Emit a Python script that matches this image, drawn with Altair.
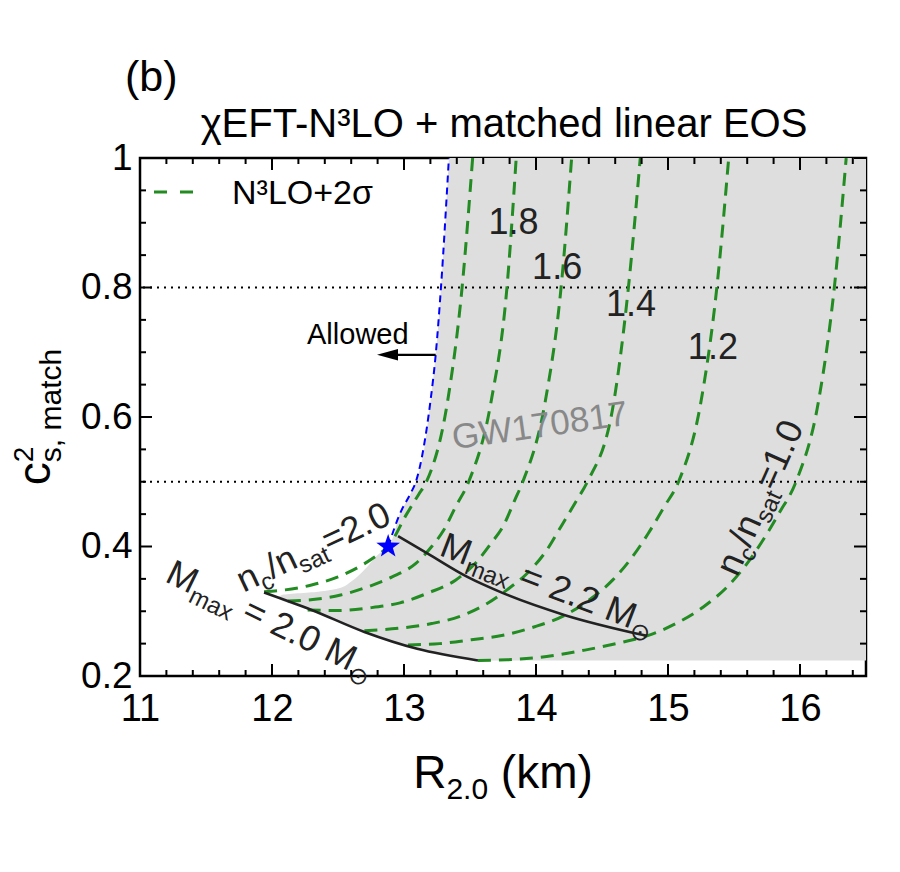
import math
import altair as alt
import pandas as pd

FONT = "Liberation Sans"
GREEN = "#228B22"
INK = "#222222"

# ---------------- data ----------------
X_MAJOR = [11, 12, 13, 14, 15, 16]
X_MINOR = [11.2, 11.4, 11.6, 11.8, 12.2, 12.4, 12.6, 12.8, 13.2, 13.4, 13.6, 13.8,
           14.2, 14.4, 14.6, 14.8, 15.2, 15.4, 15.6, 15.8, 16.2, 16.4]
Y_MAJOR = [0.2, 0.4, 0.6, 0.8, 1.0]
Y_MINOR = [0.25, 0.3, 0.35, 0.45, 0.5, 0.55, 0.65, 0.7, 0.75, 0.85, 0.9, 0.95]
DOTTED_Y = [0.5, 0.8]

NC_LEVELS = ["2.0", "1.8", "1.6", "1.4", "1.2", "1.0"]
NC_X = {
    "2.0": [11.94, 12.10, 12.30, 12.50, 12.68, 12.80, 12.88, 13.02, 13.11, 13.17, 13.33, 13.44, 13.52],
    "1.8": [12.12, 12.31, 12.52, 12.73, 12.91, 13.09, 13.21, 13.30, 13.39, 13.49, 13.66, 13.78, 13.85],
    "1.6": [12.27, 12.49, 12.73, 12.97, 13.18, 13.39, 13.54, 13.66, 13.75, 13.84, 13.90, 14.07, 14.19, 14.27],
    "1.4": [12.70, 12.97, 13.21, 13.45, 13.63, 13.78, 13.93, 14.08, 14.19, 14.31, 14.39, 14.59, 14.70, 14.79],
    "1.2": [13.03, 13.27, 13.51, 13.75, 13.99, 14.22, 14.40, 14.58, 14.73, 14.85, 14.97, 15.08, 15.25, 15.37, 15.46],
    "1.0": [13.56, 13.78, 14.08, 14.37, 14.67, 14.84, 15.06, 15.27, 15.45, 15.60, 15.72, 15.84, 15.97, 16.14, 16.26, 16.35],
}
NC_Y = {
    "2.0": [0.330, 0.333, 0.3405, 0.353, 0.371, 0.387, 0.400, 0.450, 0.480, 0.500, 0.624, 0.800, 1.000],
    "1.8": [0.316, 0.318, 0.325, 0.338, 0.353, 0.374, 0.400, 0.425, 0.461, 0.500, 0.624, 0.800, 1.000],
    "1.6": [0.302, 0.301, 0.305, 0.313, 0.328, 0.348, 0.374, 0.405, 0.431, 0.472, 0.500, 0.624, 0.800, 1.000],
    "1.4": [0.270, 0.274, 0.281, 0.294, 0.312, 0.333, 0.358, 0.394, 0.431, 0.472, 0.500, 0.624, 0.800, 1.000],
    "1.2": [0.248, 0.250, 0.256, 0.263, 0.276, 0.294, 0.317, 0.348, 0.384, 0.420, 0.461, 0.500, 0.624, 0.800, 1.000],
    "1.0": [0.224, 0.225, 0.230, 0.240, 0.253, 0.262, 0.281, 0.307, 0.338, 0.374, 0.410, 0.451, 0.500, 0.624, 0.800, 1.000],
}
MMAX20_X = [11.94, 12.30, 12.70, 13.10, 13.56]
MMAX20_Y = [0.329, 0.302, 0.268, 0.242, 0.224]
MMAX22_X = [12.955, 13.18, 13.48, 13.75, 14.22, 14.84]
MMAX22_Y = [0.416, 0.389, 0.353, 0.328, 0.294, 0.262]
GW_X = [12.88, 12.97, 13.05, 13.09, 13.20, 13.24, 13.28, 13.34]
GW_Y = [0.400, 0.451, 0.482, 0.500, 0.624, 0.696, 0.800, 1.000]
GREY_Y = [0.224, 0.242, 0.268, 0.302, 0.321, 0.325, 0.330, 0.335, 0.346, 0.364, 0.387, 0.400,
          0.451, 0.482, 0.500, 0.624, 0.696, 0.800, 1.000]
GREY_XL = [13.56, 13.10, 12.70, 12.30, 12.05, 12.075, 12.35, 12.50, 12.60, 12.70, 12.80, 12.88,
           12.97, 13.05, 13.09, 13.20, 13.24, 13.28, 13.34]
GREY_XR = 16.5
STAR = (12.88, 0.400)
LEVEL_LABELS = ["1.8", "1.6", "1.4", "1.2"]
LEVEL_LX = [13.83, 14.16, 14.72, 15.34]
LEVEL_LY = [0.900, 0.830, 0.773, 0.706]

# ---------------- symbol shapes ----------------
_pts = []
for k in range(10):
    r = 1.0 if k % 2 == 0 else 0.40
    a = math.radians(-90 + 36 * k)
    _pts.append("%.3f %.3f" % (r * math.cos(a), r * math.sin(a)))
STAR_PATH = "M " + " L ".join(_pts) + " Z"
ARROW_PATH = "M -1 0 L 1 -0.55 L 1 0.55 Z"

# ---------------- scales / axes ----------------
xs = alt.Scale(domain=[11, 16.5], nice=False, zero=False)
ys = alt.Scale(domain=[0.2, 1.0], nice=False, zero=False)
xaxis = alt.Axis(values=X_MAJOR, format="d", labelFontSize=38, labelFont=FONT, labelColor="black",
                 ticks=False, tickSize=0, domain=False, grid=False, labelPadding=14, title=None,
                 labelFlush=False, labelOverlap=False)
yaxis = alt.Axis(values=Y_MAJOR, format="~g", labelFontSize=37, labelFont=FONT, labelColor="black",
                 ticks=False, tickSize=0, domain=False, grid=False, labelPadding=8, title=None,
                 labelFlush=False, labelOverlap=False)


def X(f="x"):
    return alt.X(f + ":Q", scale=xs, axis=xaxis)


def Y(f="y"):
    return alt.Y(f + ":Q", scale=ys, axis=yaxis)


W, H = 726, 518
layers = []

# grey allowed region
grey = pd.DataFrame({"y": GREY_Y, "xl": GREY_XL, "xr": [GREY_XR] * len(GREY_Y)})
layers.append(alt.Chart(grey).mark_area(orient="horizontal", color="#dedede", interpolate="monotone")
              .encode(y=Y(), x=X("xl"), x2="xr:Q"))

# dotted horizontal lines
layers.append(alt.Chart(pd.DataFrame({"y": DOTTED_Y})).mark_rule(color="black", strokeWidth=2, strokeDash=[2, 5])
              .encode(y=Y()))

# green curves
rows = []
for lv in NC_LEVELS:
    for i, (a, b) in enumerate(zip(NC_X[lv], NC_Y[lv])):
        rows.append({"nc": lv, "x": a, "y": b, "o": i})
green = pd.DataFrame(rows)
layers.append(alt.Chart(green).mark_line(color=GREEN, strokeWidth=3, strokeDash=[13, 8], interpolate="monotone")
              .encode(x=X(), y=Y(), detail="nc:N", order="o:Q"))

# blue GW boundary
blue = pd.DataFrame({"x": GW_X, "y": GW_Y, "o": list(range(len(GW_X)))})
layers.append(alt.Chart(blue).mark_line(color="#0000ff", strokeWidth=2, strokeDash=[7, 5], interpolate="monotone")
              .encode(x=X(), y=Y(), order="o:Q"))

# Mmax lines
mm = pd.DataFrame({"x": MMAX20_X + MMAX22_X, "y": MMAX20_Y + MMAX22_Y,
                   "m": ["2.0"] * len(MMAX20_X) + ["2.2"] * len(MMAX22_X),
                   "o": list(range(len(MMAX20_X))) + list(range(len(MMAX22_X)))})
layers.append(alt.Chart(mm).mark_line(color=INK, strokeWidth=2.6, interpolate="monotone")
              .encode(x=X(), y=Y(), detail="m:N", order="o:Q"))

# star
layers.append(alt.Chart(pd.DataFrame({"x": [STAR[0]], "y": [STAR[1]]}))
              .mark_point(shape=STAR_PATH, filled=True, size=620, color="#0000ff", opacity=1, strokeWidth=0)
              .encode(x=X(), y=Y()))

# arrow "Allowed"
layers.append(alt.Chart(pd.DataFrame({"x": [13.24], "x2": [12.95], "y": [0.696]}))
              .mark_rule(color="black", strokeWidth=2.2).encode(x=X(), x2="x2:Q", y=Y()))
layers.append(alt.Chart(pd.DataFrame({"x": [12.875], "y": [0.696]}))
              .mark_point(shape=ARROW_PATH, size=441, filled=True, color="black", opacity=1, strokeWidth=0)
              .encode(x=X(), y=Y()))
layers.append(alt.Chart(pd.DataFrame({"x": [12.65], "y": [0.727]}))
              .mark_text(text="Allowed", font=FONT, fontSize=29, color="black", align="center", baseline="middle")
              .encode(x=X(), y=Y()))

# level labels
lv = pd.DataFrame({"x": LEVEL_LX, "y": LEVEL_LY, "t": LEVEL_LABELS})
layers.append(alt.Chart(lv).mark_text(font=FONT, fontSize=36, color=INK, align="center", baseline="middle")
              .encode(x=X(), y=Y(), text="t:N"))

# GW170817
layers.append(alt.Chart(pd.DataFrame({"x": [14.03], "y": [0.586]}))
              .mark_text(text="GW170817", font=FONT, fontSize=35, color="#888888", align="center",
                         baseline="middle", angle=352)
              .encode(x=X(), y=Y()))

# ---------------- rich (sub/superscript) labels ----------------
CW = {" ": .278, "(": .333, ")": .333, ".": .278, ",": .278, "/": .278, "=": .584, "+": .584,
      "-": .333, "a": .556, "c": .5, "h": .556, "k": .5, "m": .833, "n": .556, "s": .5, "t": .278,
      "x": .5, "M": .833, "R": .722, "⊙": .8}


def tw(s, size):
    return sum(CW.get(ch, 0.556) for ch in s) * size


def rich(segs, angle, color, mid, data_anchor=None, px_anchor=None):
    """segments: (text, size, baseline shift, advance). Leading spaces become offsets
    (SVG drops them), inner spaces are kept as non-breaking spaces."""
    cursor = 0.0
    placed = []
    for text, size, shift, adv in segs:
        lead = len(text) - len(text.lstrip(" "))
        cursor += lead * CW[" "] * size
        body = text.lstrip(" ")
        placed.append((body.replace(" ", "\u00a0"), size, shift, cursor))
        if adv:
            cursor += tw(body, size)
    start = -cursor / 2.0
    out = []
    if data_anchor is not None:
        df = pd.DataFrame({"x": [data_anchor[0]], "y": [data_anchor[1]]})
        enc = dict(x=X(), y=Y())
    else:
        df = pd.DataFrame({"x": [0], "y": [0]})
        enc = dict(x=alt.value(px_anchor[0]), y=alt.value(px_anchor[1]))
    for text, size, shift, pos in placed:
        out.append(alt.Chart(df).mark_text(text=text, font=FONT, fontSize=size, color=color, align="left",
                                           baseline="alphabetic", angle=angle % 360,
                                           dx=start + pos, dy=mid + shift).encode(**enc))
    return out


F = 36
S = 24
nc_segs = lambda val: [("n", F, 0, True), ("c", S, 8, True), ("/", F, 0, True), ("n", F, 0, True),
                       ("sat", S, 8, True), ("=" + val, F, 0, True)]
m_segs = lambda val: [("M", F, 0, True), ("max", S, 8, True), (" = " + val + " M", F, 0, True),
                      ("⊙", S, 8, True)]
layers += rich(nc_segs("2.0"), -25, INK, 0.35 * F, data_anchor=(12.31, 0.400))
layers += rich(nc_segs("1.0"), -66, INK, 0.35 * F, data_anchor=(15.69, 0.476))
layers += rich(m_segs("2.2"), 21, INK, 0.35 * F, data_anchor=(14.09, 0.343))
layers += rich(m_segs("2.0"), 26, INK, 0.35 * F, data_anchor=(11.99, 0.288))

# axis titles
layers += rich([("R", 46, 0, True), ("2.0", 30, 11, True), (" (km)", 46, 0, True)], 0, "black", 0,
               px_anchor=(363, 630))
layers += rich([("c", 46, 0, True), ("2", 28, -17, False), ("s, match", 30, 11, True)], -90, "black", 0,
               px_anchor=(-90, 259))

# title, panel tag, legend
layers.append(alt.Chart(pd.DataFrame({"x": [0]})).mark_text(
    text="χEFT-N³LO + matched linear EOS", font=FONT, fontSize=40, color="black", align="center",
    baseline="alphabetic").encode(x=alt.value(364), y=alt.value(-21)))
layers.append(alt.Chart(pd.DataFrame({"x": [0]})).mark_text(
    text="(b)", font=FONT, fontSize=43, color="black", align="left", baseline="alphabetic")
    .encode(x=alt.value(-15), y=alt.value(-67)))
layers.append(alt.Chart(pd.DataFrame({"x": [0]})).mark_rule(color=GREEN, strokeWidth=3, strokeDash=[13, 13])
              .encode(x=alt.value(14), x2=alt.value(56), y=alt.value(34)))
layers.append(alt.Chart(pd.DataFrame({"x": [0]})).mark_text(
    text="N³LO+2σ", font=FONT, fontSize=34, color="black", align="left", baseline="alphabetic")
    .encode(x=alt.value(92), y=alt.value(46)))

# inward ticks
TW = 2
def xticks(vals, y0, y1):
    return alt.Chart(pd.DataFrame({"x": vals})).mark_rule(color="black", strokeWidth=TW).encode(
        x=X(), y=alt.value(y0), y2=alt.value(y1))


def yticks(vals, x0, x1):
    return alt.Chart(pd.DataFrame({"y": vals})).mark_rule(color="black", strokeWidth=TW).encode(
        y=Y(), x=alt.value(x0), x2=alt.value(x1))


layers += [xticks(X_MAJOR, H, H - 12), xticks(X_MINOR, H, H - 6),
           xticks(X_MAJOR, 0, 12), xticks(X_MINOR, 0, 6),
           yticks(Y_MAJOR, 0, 12), yticks(Y_MINOR, 0, 6),
           yticks(Y_MAJOR, W, W - 12), yticks(Y_MINOR, W, W - 6)]

chart = alt.layer(*layers).properties(
    width=W, height=H,
    autosize=alt.AutoSizeParams(type="none"),
    padding={"left": 132, "top": 150, "right": 20, "bottom": 170},
    background="white",
).configure_view(stroke="black", strokeWidth=2.5)

chart.save("out.html", embed_options={"renderer": "svg", "actions": False})
